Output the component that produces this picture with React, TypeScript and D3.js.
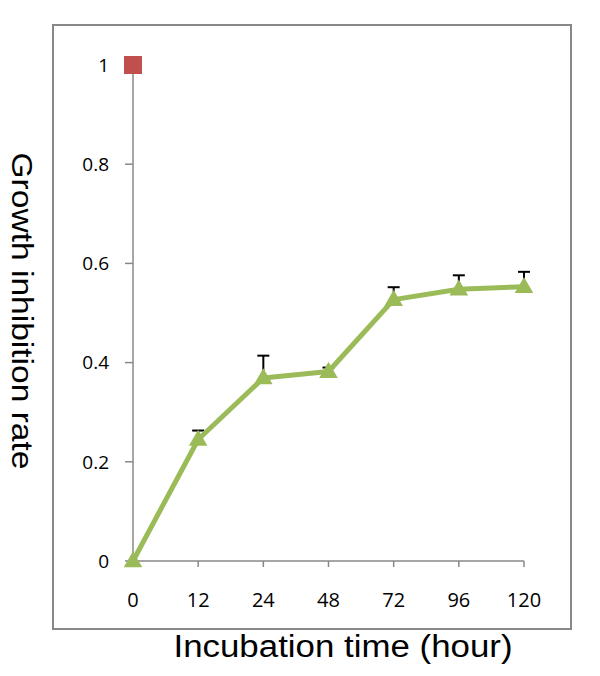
import { useEffect, useRef } from 'react';
import * as d3 from 'd3';

const categories = ["0", "12", "24", "48", "72", "96", "120"];
const values = [0, 0.245, 0.369, 0.382, 0.527, 0.548, 0.553];
const errors = [0, 0.018, 0.045, 0.008, 0.025, 0.028, 0.03];
const refCategory = "0";
const refValue = 1;
const yTicks = [0, 0.2, 0.4, 0.6, 0.8, 1];

function App() {
    const ref = useRef<SVGSVGElement>(null);

    useEffect(() => {
        const svg = d3.select(ref.current);
        svg.selectAll("*").remove();

        const font = "'Open Sans', sans-serif";
        const titleFont = "'Liberation Sans', Arial, sans-serif";

        // outer frame
        svg.append("rect")
            .attr("x", 53).attr("y", 25)
            .attr("width", 518).attr("height", 604)
            .attr("fill", "none")
            .attr("stroke", "#888")
            .attr("stroke-width", 2);

        const x = d3.scalePoint<string>()
            .domain(categories)
            .range([133, 524]);

        const y = d3.scaleLinear()
            .domain([0, 1])
            .range([561, 65]);

        // y axis
        svg.append("line")
            .attr("x1", 133).attr("x2", 133)
            .attr("y1", y(0)).attr("y2", y(1))
            .attr("stroke", "#888").attr("stroke-width", 1.5);
        svg.append("g").selectAll("line").data(yTicks).enter().append("line")
            .attr("x1", 125).attr("x2", 133)
            .attr("y1", d => y(d)).attr("y2", d => y(d))
            .attr("stroke", "#888").attr("stroke-width", 1.5);
        svg.append("g").selectAll("text").data(yTicks).enter().append("text")
            .attr("x", 109)
            .attr("y", d => y(d))
            .attr("dy", "0.36em")
            .attr("text-anchor", "end")
            .attr("font-family", font)
            .attr("font-size", 19)
            .text(d => d3.format("~g")(d));

        // x axis
        svg.append("line")
            .attr("x1", 133).attr("x2", 524)
            .attr("y1", y(0)).attr("y2", y(0))
            .attr("stroke", "#888").attr("stroke-width", 1.5);
        svg.append("g").selectAll("line").data(categories.slice(1)).enter().append("line")
            .attr("x1", d => x(d)!).attr("x2", d => x(d)!)
            .attr("y1", y(0)).attr("y2", y(0) + 6)
            .attr("stroke", "#888").attr("stroke-width", 1.5);
        svg.append("g").selectAll("text").data(categories).enter().append("text")
            .attr("x", d => x(d)!)
            .attr("y", 607)
            .attr("text-anchor", "middle")
            .attr("font-family", font)
            .attr("font-size", 20)
            .text(d => d);

        // error bars (plus only)
        const eb = svg.append("g").attr("stroke", "#000").attr("stroke-width", 2);
        categories.forEach((c, i) => {
            if (errors[i] <= 0) return;
            eb.append("line")
                .attr("x1", x(c)!).attr("x2", x(c)!)
                .attr("y1", y(values[i])).attr("y2", y(values[i] + errors[i]));
            eb.append("line")
                .attr("x1", x(c)! - 6).attr("x2", x(c)! + 6)
                .attr("y1", y(values[i] + errors[i])).attr("y2", y(values[i] + errors[i]));
        });

        // series line
        const line = d3.line<number>()
            .x((d, i) => x(categories[i])!)
            .y(d => y(d));
        svg.append("path")
            .datum(values)
            .attr("d", line)
            .attr("fill", "none")
            .attr("stroke", "#9BBB59")
            .attr("stroke-width", 5)
            .attr("stroke-linejoin", "round");

        // triangle markers
        const tri = d3.symbol().type(d3.symbolTriangle).size(150);
        svg.append("g").selectAll("path").data(values).enter().append("path")
            .attr("d", tri)
            .attr("transform", (d, i) => `translate(${x(categories[i])},${y(d) + 1})`)
            .attr("fill", "#9BBB59");

        // reference square
        svg.append("rect")
            .attr("x", x(refCategory)! - 9)
            .attr("y", y(refValue) - 9)
            .attr("width", 18).attr("height", 18)
            .attr("fill", "#C0504D");

        // titles
        svg.append("text")
            .attr("transform", "translate(12,311) rotate(90)")
            .attr("text-anchor", "middle")
            .attr("font-family", titleFont)
            .attr("font-size", 30)
            .attr("textLength", 317)
            .attr("lengthAdjust", "spacingAndGlyphs")
            .text("Growth inhibition rate");

        svg.append("text")
            .attr("x", 343)
            .attr("y", 657)
            .attr("text-anchor", "middle")
            .attr("font-family", titleFont)
            .attr("font-size", 31)
            .attr("textLength", 339)
            .attr("lengthAdjust", "spacingAndGlyphs")
            .text("Incubation time (hour)");
    }, []);

    return (
        <svg ref={ref} width={600} height={676} style={{ position: "absolute", left: 0, top: 0 }} />
    );
}

export default App;
